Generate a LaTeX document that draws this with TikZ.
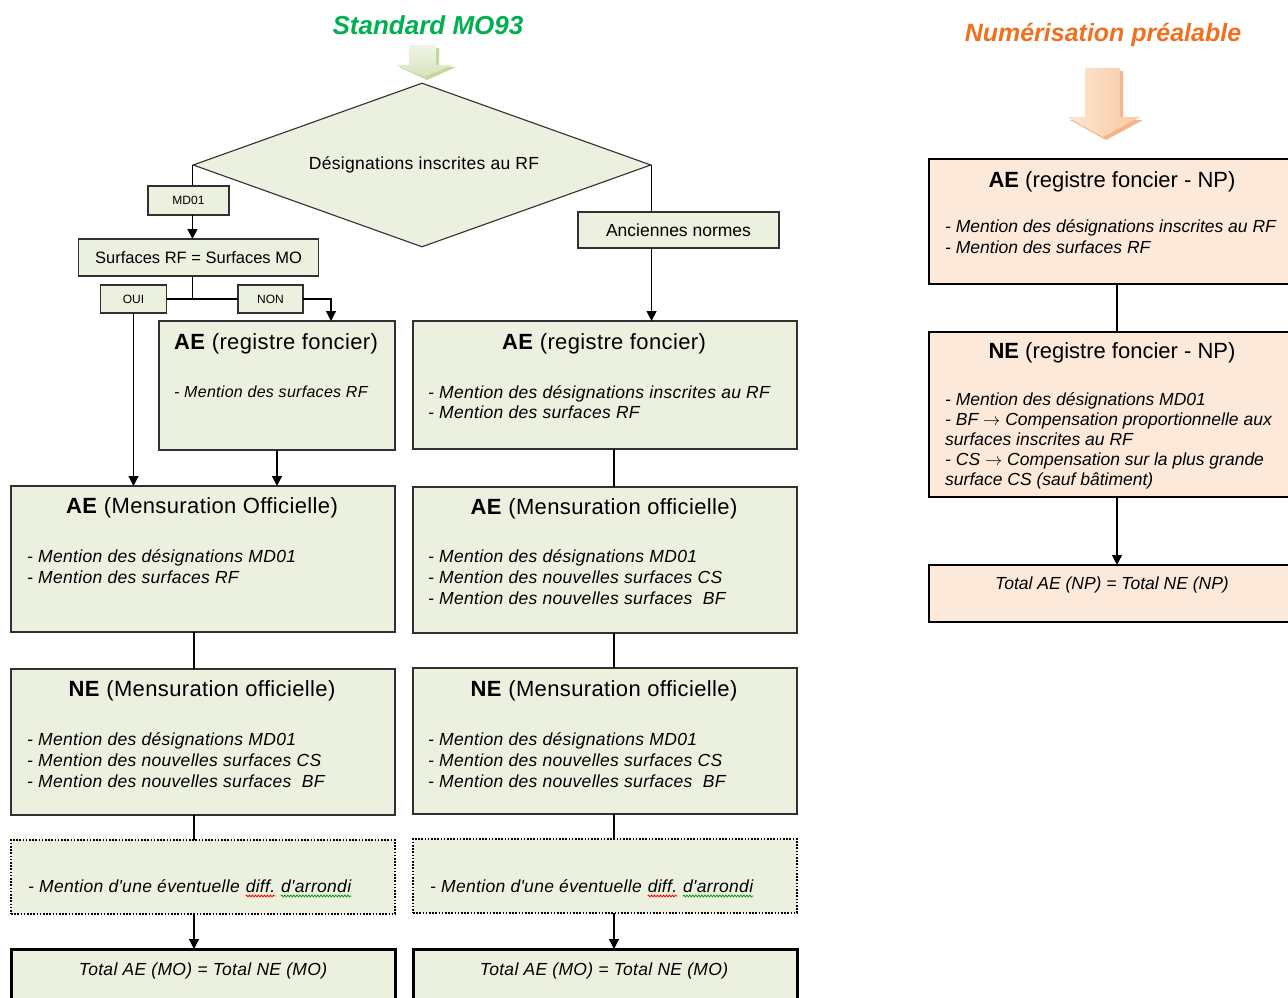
\documentclass[tikz,border=0pt]{standalone}
\usepackage{fontspec}
\setmainfont{Liberation Sans}
\newfontfamily\gfont[LetterSpace=1.8]{Liberation Sans}
\newfontfamily\hfont[LetterSpace=1.7]{Liberation Sans}
\usetikzlibrary{arrows.meta,shapes.geometric,decorations.pathmorphing}
\definecolor{gfill}{HTML}{EBF1DE}
\definecolor{ofill}{HTML}{FDE9D9}
\definecolor{gtitle}{HTML}{00B050}
\definecolor{otitle}{RGB}{240,112,30}
\definecolor{bord}{HTML}{303030}
\tikzset{
  gbox/.style={draw=bord, line width=1.3pt, fill=gfill, anchor=north west, inner sep=0pt, outer sep=0pt},
  obox/.style={draw=black, line width=1.8pt, fill=ofill, anchor=north west, inner sep=0pt, outer sep=0pt},
  dotbox/.style={gbox, draw=black, line width=2pt, dash pattern=on 1.6pt off 1.6pt},
  totbox/.style={gbox, draw=black, line width=3pt},
  sbox/.style={draw=bord, line width=1.1pt, fill=gfill, inner sep=0pt, outer sep=0pt},
  head/.style={font=\hfont\fontsize{22}{26}\selectfont, anchor=base, inner sep=0pt},
  ohead/.style={font=\fontsize{22}{26}\selectfont, anchor=base, inner sep=0pt},
  gbody/.style={font=\gfont\fontsize{17.5}{21}\selectfont\itshape, anchor=base west, inner sep=0pt},
  gcbody/.style={font=\gfont\fontsize{17.5}{21}\selectfont\itshape, anchor=base, inner sep=0pt},
  body/.style={font=\fontsize{17.5}{21}\selectfont\itshape, anchor=base west, inner sep=0pt},
  cbody/.style={font=\fontsize{17.5}{21}\selectfont\itshape, anchor=base, inner sep=0pt},
  ln/.style={line width=1.2pt, draw=black},
  arr/.style={ln, -{Triangle[width=10pt,length=10pt]}},
  squig/.style={line width=0.8pt, decorate, decoration={snake, amplitude=0.9pt, segment length=3pt}},
}
\begin{document}
\begin{tikzpicture}[x=1pt,y=-1pt]
\useasboundingbox (0,0) rectangle (1288,998);
\clip (0,0) rectangle (1288,998);
\fill[white] (0,0) rectangle (1288,998);

% titles
\node[font=\fontsize{26}{30}\selectfont\bfseries\itshape, text=gtitle, inner sep=0pt] (t1) at (428,25) {Standard MO93};
\node[font=\fontsize{25}{30}\selectfont\bfseries\itshape, text=otitle, inner sep=0pt] (t2) at (1103,35) {Numérisation préalable};

% green block arrow
\fill[fill={rgb,255:red,196;green,213;blue,159}] (412,48) -- (439,48) -- (439,67) -- (456,67) -- (427,80) -- (399,67) -- (412,67) -- cycle;
\shade[top color={rgb,255:red,240;green,245;blue,230}, bottom color={rgb,255:red,214;green,227;blue,188}] (409,45) -- (436,45) -- (436,65) -- (453,65) -- (424,77) -- (396,65) -- (409,65) -- cycle;

% orange block arrow
\fill[fill={rgb,255:red,245;green,180;blue,135}] (1088,71) -- (1123,71) -- (1123,120) -- (1143,120) -- (1106,140) -- (1070,120) -- (1088,120) -- cycle;
\shade[left color={rgb,255:red,253;green,230;blue,212}, right color={rgb,255:red,249;green,200;blue,160}] (1085,68) -- (1120,68) -- (1120,117) -- (1140,117) -- (1103,137) -- (1067,117) -- (1085,117) -- cycle;

% column coordinates
\coordinate (colL) at (194,0);
\coordinate (colR) at (614,0);
\coordinate (colNP) at (1117,0);
\coordinate (nonin) at (331,321);

% decision
\node[diamond, draw=bord, line width=1.1pt, fill=gfill, minimum width=458, minimum height=164, inner sep=0pt] (dia) at (422,165) {};
\node[font=\gfont\fontsize{17.5}{20}\selectfont, inner sep=0pt] (diat) at (424,165) {Désignations inscrites au RF};

\node[sbox, minimum width=81, minimum height=29, font=\fontsize{12}{14}\selectfont] (md) at (188.5,200.5) {MD01};
\node[sbox, minimum width=240, minimum height=37, font=\fontsize{16.5}{19}\selectfont] (sur) at (198.5,257.5) {Surfaces RF = Surfaces MO};
\node[sbox, minimum width=66, minimum height=28, font=\fontsize{12}{14}\selectfont] (oui) at (133.5,299) {OUI};
\node[sbox, minimum width=65, minimum height=28, font=\fontsize{12}{14}\selectfont] (non) at (270.5,299) {NON};
\node[sbox, minimum width=201, minimum height=36, font=\fontsize{17.5}{20}\selectfont] (anc) at (678.5,230) {Anciennes normes};

% left AE registre foncier
\node[gbox, minimum width=236, minimum height=129] (aeRFL) at (159,321) {};
\node[head] (aeRFLh) at (276,349.5) {\textbf{AE} (registre foncier)};
\node[gbody, font=\gfont\fontsize{16}{19}\selectfont\itshape] (aeRFL1) at (174,397) {- Mention des surfaces RF};

% right AE registre foncier
\node[gbox, minimum width=384, minimum height=128] (aeRFR) at (413,321) {};
\node[head] (aeRFRh) at (604,349.5) {\textbf{AE} (registre foncier)};
\node[gbody] (aeRFR1) at (428,398) {- Mention des désignations inscrites au RF};
\node[gbody] (aeRFR2) at (428,418) {- Mention des surfaces RF};

% AE Mensuration left
\node[gbox, minimum width=384, minimum height=146] (aeMOL) at (11,486) {};
\node[head] (aeMOLh) at (202,513) {\textbf{AE} (Mensuration Officielle)};
\node[gbody] (aeMOL1) at (27,562) {- Mention des désignations MD01};
\node[gbody] (aeMOL2) at (27,583) {- Mention des surfaces RF};

% AE Mensuration right
\node[gbox, minimum width=384, minimum height=146] (aeMOR) at (413,487) {};
\node[head] (aeMORh) at (604,514) {\textbf{AE} (Mensuration officielle)};
\node[gbody] (aeMOR1) at (428,562) {- Mention des désignations MD01};
\node[gbody] (aeMOR2) at (428,583) {- Mention des nouvelles surfaces CS};
\node[gbody] (aeMOR3) at (428,604) {- Mention des nouvelles surfaces\ \ BF};

% NE left
\node[gbox, minimum width=384, minimum height=146] (neL) at (11,669) {};
\node[head] (neLh) at (202,696) {\textbf{NE} (Mensuration officielle)};
\node[gbody] (neL1) at (27,745) {- Mention des désignations MD01};
\node[gbody] (neL2) at (27,766) {- Mention des nouvelles surfaces CS};
\node[gbody] (neL3) at (27,787) {- Mention des nouvelles surfaces\ \ BF};

% NE right
\node[gbox, minimum width=384, minimum height=146] (neR) at (413,668) {};
\node[head] (neRh) at (604,696) {\textbf{NE} (Mensuration officielle)};
\node[gbody] (neR1) at (428,745) {- Mention des désignations MD01};
\node[gbody] (neR2) at (428,766) {- Mention des nouvelles surfaces CS};
\node[gbody] (neR3) at (428,787) {- Mention des nouvelles surfaces\ \ BF};

% dotted boxes
\node[dotbox, minimum width=384, minimum height=74] (dotL) at (11,840) {};
\node[gbody] (dotL1) at (28,892) {- Mention d'une éventuelle};
\node[gbody, xshift=5.5pt] (dotL2) at (dotL1.base east) {diff.};
\node[gbody, xshift=5.5pt] (dotL3) at (dotL2.base east) {d'arrondi};
\node[dotbox, minimum width=384, minimum height=74] (dotR) at (413,839) {};
\node[gbody] (dotR1) at (430,892) {- Mention d'une éventuelle};
\node[gbody, xshift=5.5pt] (dotR2) at (dotR1.base east) {diff.};
\node[gbody, xshift=5.5pt] (dotR3) at (dotR2.base east) {d'arrondi};
\draw[squig, red] ([yshift=-4pt]dotL2.base west) -- ([yshift=-4pt]dotL2.base east);
\draw[squig, green!60!black] ([yshift=-4pt]dotL3.base west) -- ([yshift=-4pt]dotL3.base east);
\draw[squig, red] ([yshift=-4pt]dotR2.base west) -- ([yshift=-4pt]dotR2.base east);
\draw[squig, green!60!black] ([yshift=-4pt]dotR3.base west) -- ([yshift=-4pt]dotR3.base east);

% total boxes
\node[totbox, minimum width=384, minimum height=70] (totL) at (11,949) {};
\node[gcbody] (totL1) at (203,975) {Total AE (MO) = Total NE (MO)};
\node[totbox, minimum width=384, minimum height=70] (totR) at (413,949) {};
\node[gcbody] (totR1) at (604,975) {Total AE (MO) = Total NE (MO)};

% NP column
\node[obox, minimum width=380, minimum height=125] (aeNP) at (929,159) {};
\node[ohead] (aeNPh) at (1112,187) {\textbf{AE} (registre foncier - NP)};
\node[body] (aeNP1) at (945,232) {- Mention des désignations inscrites au RF};
\node[body] (aeNP2) at (945,253) {- Mention des surfaces RF};

\node[obox, minimum width=380, minimum height=165] (neNP) at (929,332) {};
\node[ohead] (neNPh) at (1112,358) {\textbf{NE} (registre foncier - NP)};
\node[body] (neNP1) at (945,405) {- Mention des désignations MD01};
\node[body] (neNP2) at (945,425) {- BF $\rightarrow$ Compensation proportionnelle aux};
\node[body] (neNP3) at (945,445) {surfaces inscrites au RF};
\node[body] (neNP4) at (945,465) {- CS $\rightarrow$ Compensation sur la plus grande};
\node[body] (neNP5) at (945,485) {surface CS (sauf bâtiment)};

\node[obox, minimum width=380, minimum height=57] (totNP) at (929,565) {};
\node[cbody] (totNP1) at (1112,589) {Total AE (NP) = Total NE (NP)};

% connectors
\draw[ln] (dia.west) -- (dia.west |- md.north);
\draw[arr] (dia.west |- md.south) -- (dia.west |- sur.north);
\draw[ln] (dia.west |- sur.south) -- (dia.west |- oui.east);
\draw[ln] (oui.east) -- (non.west);
\draw[arr] (non.east) -| (nonin);
\draw[arr] (oui.south) -- (oui.south |- aeMOL.north);
\draw[arr] (aeRFL.south) -- (aeRFL.south |- aeMOL.north);
\draw[ln] (dia.east) -- (dia.east |- anc.north);
\draw[arr] (dia.east |- anc.south) -- (dia.east |- aeRFR.north);
\draw[ln] (aeRFR.south -| colR) -- (aeMOR.north -| colR);
\draw[ln] (aeMOR.south -| colR) -- (neR.north -| colR);
\draw[ln] (neR.south -| colR) -- (dotR.north -| colR);
\draw[arr] (dotR.south -| colR) -- (totR.north -| colR);
\draw[ln] (aeMOL.south -| colL) -- (neL.north -| colL);
\draw[ln] (neL.south -| colL) -- (dotL.north -| colL);
\draw[arr] (dotL.south -| colL) -- (totL.north -| colL);
\draw[ln] (aeNP.south -| colNP) -- (neNP.north -| colNP);
\draw[arr] (neNP.south -| colNP) -- (totNP.north -| colNP);
\end{tikzpicture}
\end{document}
